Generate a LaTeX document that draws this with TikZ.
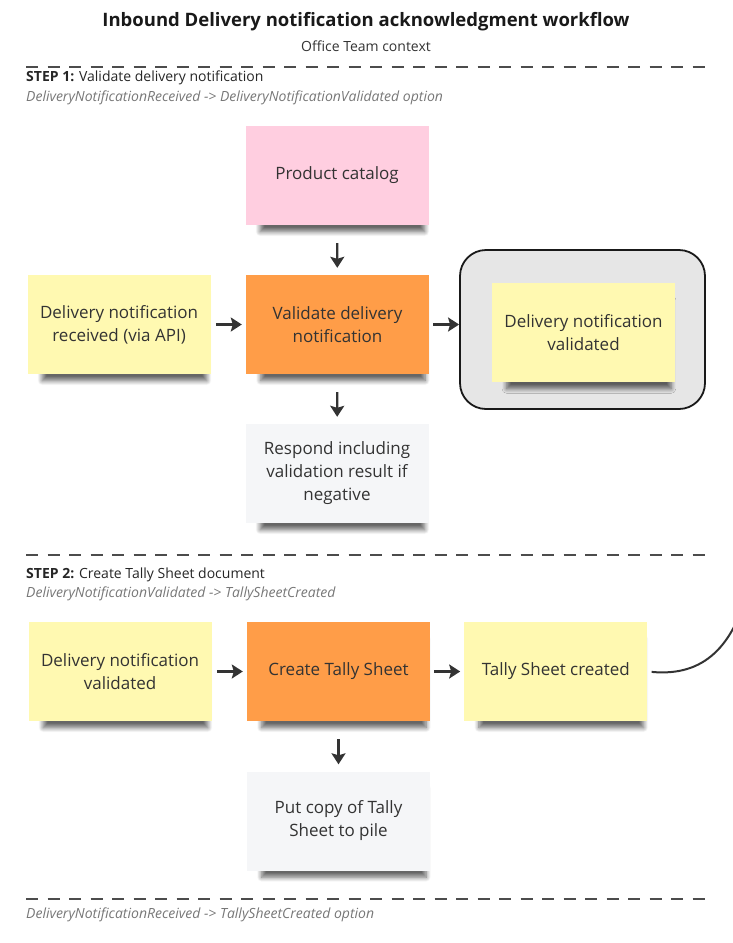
\documentclass[tikz,border=0pt]{standalone}
\usepackage{fontspec}
\setmainfont{Open Sans}
\usetikzlibrary{arrows.meta,positioning,shadows.blur}
\definecolor{stickyyellow}{HTML}{FFF9B1}
\definecolor{stickyorange}{HTML}{FF9D48}
\definecolor{stickypink}{HTML}{FFCEE0}
\definecolor{stickygray}{HTML}{F5F6F8}
\definecolor{boxgray}{HTML}{E6E6E6}
\definecolor{inkdark}{HTML}{333333}
\definecolor{inkgray}{HTML}{777777}
\tikzset{
  sticky/.style = {rectangle, draw=none, align=center, inner sep=0pt,
    minimum width=183pt, minimum height=99pt, text=inkdark,
    font=\fontsize{17}{23}\selectfont,
    blur shadow={shadow xshift=6pt, shadow yshift=-13pt, shadow scale=0.9,
      shadow opacity=60, shadow blur radius=5pt, shadow blur steps=10}},% note
  st_y/.style = {sticky, fill=stickyyellow},% event
  st_o/.style = {sticky, fill=stickyorange},% command
  st_p/.style = {sticky, fill=stickypink},% read model
  st_g/.style = {sticky, fill=stickygray},% side effect
  flow/.style = {-{Stealth[length=11pt,width=14pt,inset=2pt]},
    line width=2.2pt, draw=inkdark},
  divider/.style = {draw=black!70, line width=1.8pt,
    dash pattern=on 12pt off 9.5pt},
  steplabel/.style = {anchor=west, inner sep=0pt, text=black!85,
    font=\fontsize{14}{17}\selectfont},
  stepsub/.style = {anchor=west, inner sep=0pt, text=inkgray,
    font=\fontsize{14}{17}\selectfont\itshape}
}
\begin{document}
\begin{tikzpicture}[x=1pt,y=-1pt]
\useasboundingbox (0,0) rectangle (733,943);

% header
\node[font=\fontsize{18.5}{22}\selectfont\bfseries, text=black!90] (title)
  at (366,22) {Inbound Delivery notification acknowledgment workflow};
\node[font=\fontsize{14}{17}\selectfont, text=black!80] (context)
  at (366,46) {Office Team context};

% step 1
\coordinate (d1a) at (26,67);   \coordinate (d1b) at (706,67);
\draw[divider] (d1a) -- (d1b);
\node[steplabel] (step1) at (26,78) {\textbf{STEP 1:} Validate delivery notification};
\node[stepsub] (step1sub) at (26,98)
  {DeliveryNotificationReceived -> DeliveryNotificationValidated option};

\node[st_p] (catalog) at (337,175.5) {Product catalog};
\node[st_o] (validate) at (337.5,324.5) {Validate delivery\\notification};
\node[st_y, left=35pt of validate] (received)
  {Delivery notification\\received (via API)};
\node[rectangle, rounded corners=26pt, fill=boxgray, draw=black!90,
  line width=1.8pt, minimum width=245pt, minimum height=159pt]
  (outcome) at (582.5,329.5) {};
\node[st_y] (validated) at (583.5,332.5) {Delivery notification\\validated};
\node[st_g] (respond) at (337,473.5)
  {Respond including\\validation result if\\negative};

\draw[flow, shorten <=18pt, shorten >=7pt] (catalog) -- (validate);
\draw[flow, shorten <=5pt, shorten >=4pt] (received) -- (validate);
\draw[flow, shorten <=4pt] (validate.east) -- (outcome.west |- validate.east);
\draw[flow, shorten <=18pt, shorten >=7pt] (validate) -- (respond);

% step 2
\coordinate (d2a) at (26,555);  \coordinate (d2b) at (706,555);
\draw[divider] (d2a) -- (d2b);
\node[steplabel] (step2) at (26,575) {\textbf{STEP 2:} Create Tally Sheet document};
\node[stepsub] (step2sub) at (26,594)
  {DeliveryNotificationValidated -> TallySheetCreated};

\node[st_o] (create) at (338.5,671.5) {Create Tally Sheet};
\node[st_y, left=35pt of create] (dnvalid) {Delivery notification\\validated};
\node[st_y, right=34pt of create] (tallycreated) {Tally Sheet created};
\node[st_g] (putcopy) at (338.5,821) {Put copy of Tally\\Sheet to pile};

\draw[flow, shorten <=5pt, shorten >=4pt] (dnvalid) -- (create);
\draw[flow, shorten <=4pt, shorten >=4pt] (create) -- (tallycreated);
\draw[flow, shorten <=18pt, shorten >=7pt] (create) -- (putcopy);

\begin{scope}
  \clip (0,0) rectangle (733,943);
  \coordinate (offpage) at (748,590);
  \draw[line width=2pt, draw=inkdark, shorten <=4pt]
    (tallycreated.east) .. controls (705,677) and (733,645) .. (offpage);
\end{scope}

% footer
\coordinate (d3a) at (26,899);  \coordinate (d3b) at (706,899);
\draw[divider] (d3a) -- (d3b);
\node[stepsub] (footer) at (26,915)
  {DeliveryNotificationReceived -> TallySheetCreated option};
\end{tikzpicture}
\end{document}
